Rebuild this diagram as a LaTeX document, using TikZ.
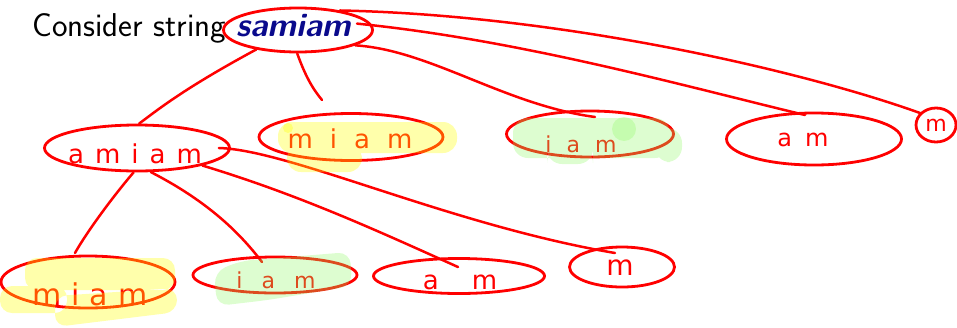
\documentclass[tikz,border=0pt]{standalone}
\usepackage{fontspec}
\newfontfamily\hand{DejaVu Sans}
\usetikzlibrary{shapes.geometric}
\definecolor{pen}{RGB}{255,0,0}
\definecolor{navyT}{RGB}{10,10,140}
\definecolor{hlY}{RGB}{255,255,0}
\definecolor{hlG}{RGB}{143,250,100}
\newcommand\gp[1]{\hspace{#1pt}}
\begin{document}
\begin{tikzpicture}[x=1pt,y=-1pt,
  oval/.style={ellipse, draw=pen, line width=2.8pt, inner sep=0pt},
  link/.style={draw=pen, line width=2.5pt, line cap=round},
  hw/.style={text=pen, inner sep=0pt, anchor=base},
  hly/.style={fill=hlY, opacity=0.33},
  hlg/.style={fill=hlG, opacity=0.30}]
\useasboundingbox (0,0) rectangle (957,327);

% title
\node[anchor=base west, inner sep=0pt, font=\sffamily\fontsize{33}{38}\selectfont] (cs) at (32,36) {Consider string};
\node[anchor=base west, inner sep=0pt, text=navyT, font=\sffamily\bfseries\itshape\fontsize{33}{38}\selectfont] (sam) at (236,36) {samiam};

% ovals
\node[oval, minimum width=149pt, minimum height=44pt] (S) at (298,30) {};
\node[oval, minimum width=185pt, minimum height=46pt] (A1) at (137,148) {};
\node[oval, minimum width=184pt, minimum height=47pt] (M1) at (351,137) {};
\node[oval, minimum width=167pt, minimum height=46pt] (I1) at (590,134) {};
\node[oval, minimum width=175pt, minimum height=52pt] (AM1) at (814,139) {};
\node[oval, minimum width=40pt, minimum height=34pt] (m1) at (936,125) {};
\node[oval, minimum width=174pt, minimum height=52pt] (M2) at (88,282) {};
\node[oval, minimum width=164pt, minimum height=36pt] (I2) at (275,275) {};
\node[oval, minimum width=171pt, minimum height=35pt] (AM2) at (459,276) {};
\node[oval, minimum width=105pt, minimum height=40pt] (m2) at (622,267) {};

% handwritten labels
\node[hw, font=\hand\fontsize{26}{30}\selectfont] (tA1) at (135,163) {a\gp{11}m\gp{11}i\gp{11}a\gp{11}m};
\node[hw, font=\hand\fontsize{26}{30}\selectfont] (tM1) at (350,148) {m\gp{17}i\gp{17}a\gp{17}m};
\node[hw, font=\hand\fontsize{22}{26}\selectfont] (tI1) at (581,152) {i\gp{15}a\gp{15}m};
\node[hw, font=\hand\fontsize{24}{28}\selectfont] (tAM1) at (803,146) {a\gp{13}m};
\node[hw, font=\hand\fontsize{22}{26}\selectfont] (tm1) at (936,131) {m};
\node[hw, font=\hand\fontsize{30}{34}\selectfont] (tM2) at (90,305) {m\gp{10}i\gp{10}a\gp{10}m};
\node[hw, font=\hand\fontsize{22}{26}\selectfont] (tI2) at (276,288) {i\gp{19}a\gp{19}m};
\node[hw, font=\hand\fontsize{26}{30}\selectfont] (tAM2) at (460,289) {a\gp{33}m};
\node[hw, font=\hand\fontsize{28}{32}\selectfont] (tm2) at (620,275) {m};

% free ends
\coordinate (eM1) at (322,100);
\coordinate (eI1) at (595,117);
\coordinate (eAM1) at (805,115);
\coordinate (em1) at (920,113);
\coordinate (eM2) at (75,253);
\coordinate (eI2) at (262,262);
\coordinate (eAM2) at (458,267);
\coordinate (em2) at (615,253);

% connectors from samiam
\draw[link] (S.205) .. controls (185,88) and (160,108) .. (A1.85);
\draw[link] (S.268) .. controls (305,75) and (312,88) .. (eM1);
\draw[link] (S.345) .. controls (430,50) and (505,105) .. (eI1);
\draw[link] ([xshift=-14pt]S.5) .. controls (520,40) and (680,85) .. (eAM1);
\draw[link] (S.25) .. controls (560,15) and (800,70) .. (em1);

% connectors from amiam
\draw[link] (A1.262) .. controls (110,200) and (85,235) .. (eM2);
\draw[link] (A1.300) .. controls (215,205) and (245,240) .. (eI2);
\draw[link] (A1.345) .. controls (300,195) and (380,232) .. (eAM2);
\draw[link] ([xshift=-12pt]A1.east) .. controls (290,150) and (450,225) .. (em2);

% highlighter
\fill[hly, rounded corners=14pt] (278,122) rectangle (457,153) (287,145) rectangle (362,172);
\fill[hly] (288,128) circle (5pt);
\fill[hlg, rounded corners=15pt] (513,118) rectangle (670,158) (655,128) rectangle (682,162) (547,148) rectangle (593,164);
\fill[hlg] (624,129) circle (12pt);
\fill[hly, rounded corners=12pt] (25,258) rectangle (175,290) (0,286) rectangle (67,313) (55,327) -- (55,296) -- (177,288) -- (177,312) -- cycle;
\fill[hlg, rounded corners=12pt] (214,272) -- (240,261) -- (350,252) -- (352,286) -- (268,300) -- (217,306) -- cycle;
\end{tikzpicture}
\end{document}
